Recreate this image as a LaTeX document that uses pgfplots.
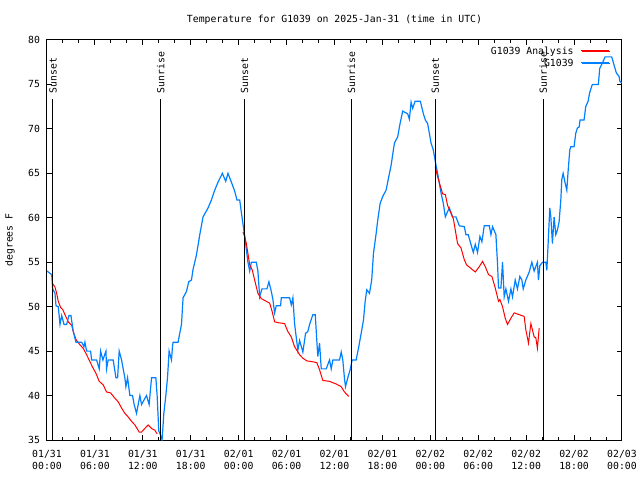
\documentclass[border=0pt]{standalone}
\usepackage{fontspec}
\setmainfont{DejaVu Sans Mono}
\usepackage{pgfplots}
\pgfplotsset{compat=1.18}
\definecolor{gblue}{RGB}{0,128,255}
\definecolor{gred}{RGB}{255,0,0}
\begin{document}
\begin{tikzpicture}[font=\fontsize{9.8pt}{12pt}\selectfont]
\path[use as bounding box] (-47pt,-40pt) rectangle (593pt,440pt);
\begin{axis}[
  scale only axis, width=575pt, height=400pt,
  xmin=0, xmax=72, ymin=35, ymax=80,
  xtick={0,6,...,72}, minor x tick num=2,
  xticklabels={{01/31\\00:00},{01/31\\06:00},{01/31\\12:00},{01/31\\18:00},{02/01\\00:00},{02/01\\06:00},{02/01\\12:00},{02/01\\18:00},{02/02\\00:00},{02/02\\06:00},{02/02\\12:00},{02/02\\18:00},{02/03\\00:00}},
  xticklabel style={align=center, yshift=-7pt},
  ytick={35,40,...,80},
  yticklabel style={xshift=-3.5pt},
  /pgf/number format/assume math mode=true,
  tick align=inside,
  major tick length=5pt, minor tick length=3pt,
  every tick/.style={black, line width=1pt},
  axis line style={black, line width=1pt},
  title={Temperature for G1039 on 2025-Jan-31 (time in UTC)},
  every axis title/.style={at={(axis description cs:0.5,1)}, yshift=20pt, anchor=center},
  ylabel={degrees F},
  every axis y label/.style={at={(axis description cs:0,0.5)}, xshift=-37pt, rotate=90, anchor=center},
  legend style={draw=none, fill=none, at={(rel axis cs:1,1)}, anchor=north east, xshift=-11pt, yshift=-5pt, row sep=-1pt, column sep=6pt, inner sep=0pt},
  legend cell align=right,
  legend plot pos=right,
  legend image code/.code={\path (0pt,0pt) -- (28pt,0pt);},
]
% Analysis (red)
\addplot[color=gred, line width=1pt] coordinates {
(0.71,52.6) (1.0,52.2) (1.21,51.5) (1.41,50.6) (1.71,49.9) (1.96,49.7) (2.25,49.1) (2.66,48.3) (3.09,47.9) (3.29,47.2) (3.63,46.3) (4.04,45.8) (4.54,45.3) (4.96,44.6) (5.38,43.8) (5.71,43.2) (6.13,42.5) (6.54,41.6) (7.04,41.2) (7.46,40.4) (7.96,40.3) (8.5,39.7) (8.91,39.3) (9.34,38.6) (9.75,38) (10.16,37.6) (10.59,37.1) (11.0,36.7) (11.54,35.9) (11.84,35.9) (12.25,36.3) (12.66,36.7) (13.09,36.3) (13.5,36.1) (13.79,35.7)
};
\addlegendentry{G1039 Analysis}
\addplot[color=gblue, line width=1.2pt] coordinates {
(0.0,54) (0.16,53.9) (0.59,53.6) (0.71,52) (1.0,51.5) (1.13,50.1) (1.41,50) (1.63,48) (1.84,49) (2.13,48) (2.46,48) (2.75,49) (3.0,49) (3.29,47.2) (3.63,46) (4.34,46) (4.63,45.5) (4.75,46) (4.96,45) (5.46,45) (5.59,44) (6.21,44) (6.54,43) (6.71,45) (7.0,44) (7.38,45) (7.46,43) (7.66,44) (8.29,44) (8.63,42) (8.84,42) (9.04,45) (9.34,44) (9.54,43) (9.75,42) (9.88,41) (10.09,42) (10.38,40) (10.71,40) (10.91,39) (11.21,38) (11.63,40) (11.84,39) (12.46,40) (12.79,39) (13.09,42) (13.63,42) (13.79,40) (14.0,36) (14.25,35.5) (14.41,35) (14.63,38) (14.88,40) (15.09,42) (15.29,45) (15.59,44) (15.71,45.5) (15.79,46) (16.41,46) (16.84,48) (17.04,51) (17.46,51.7) (17.75,52.8) (18.09,53) (18.29,54.2) (18.71,55.8) (19.13,58.1) (19.54,60.1) (20.16,61.1) (20.59,62) (21.0,63.1) (21.41,64) (21.96,65) (22.38,64.1) (22.66,65) (23.09,64) (23.5,63) (23.79,62) (24.13,62) (24.34,60.6) (24.54,59.3) (24.75,58) (24.96,56.5) (25.16,55) (25.38,54) (25.59,55) (26.21,55) (26.41,54) (26.63,51.1) (26.91,52) (27.54,52) (27.79,52.8) (28.09,51.7) (28.29,50.8) (28.5,49.3) (28.71,50.1) (29.25,50.1) (29.34,51) (30.38,51) (30.59,50.2) (30.79,51) (31.0,48.1) (31.41,45.1) (31.63,46.2) (32.04,44.9) (32.38,47) (32.66,47.2) (32.88,48) (33.29,49.1) (33.59,49.1) (33.79,46.1) (33.91,44.4) (34.13,45.9) (34.34,43) (34.96,43) (35.38,44) (35.59,43) (35.79,44) (36.63,44) (36.84,44.9) (37.04,44) (37.25,41.9) (37.38,41) (37.66,42) (37.96,42.9) (38.21,44) (38.71,44) (39.04,45.5) (39.34,47) (39.63,48.5) (39.84,50.6) (40.04,51.9) (40.38,51.5) (40.66,53) (40.88,56) (41.21,58.2) (41.41,59.7) (41.71,61.6) (42.04,62.4) (42.46,63.1) (42.79,64.6) (43.09,65.9) (43.5,68.4) (43.91,69.1) (44.21,70.6) (44.54,72) (45.16,71.7) (45.38,71.1) (45.59,73) (45.79,72.3) (46.09,73.1) (46.75,73.1) (47.13,71.7) (47.38,71) (47.66,70.6) (47.88,69.5) (48.09,68.4) (48.38,67.6) (48.63,66.3) (48.91,65) (49.13,63.9) (49.34,62.8) (49.63,61.6) (49.88,60.1) (50.16,60.7) (50.38,61.1) (50.79,60.1) (51.21,60.1) (51.63,59.1) (52.25,59) (52.46,58.1) (52.75,58.1) (53.09,57) (53.38,56.1) (53.63,57) (53.91,56.1) (54.21,57.9) (54.46,57.3) (54.75,59.1) (55.38,59.1) (55.59,58.1) (55.79,59) (56.21,58.1) (56.41,54.9) (56.54,52.1) (56.84,52.1) (57.04,55) (57.25,51.1) (57.46,52) (57.79,50.6) (58.09,52) (58.29,51.1) (58.63,53) (58.91,52) (59.21,53.4) (59.46,53) (59.63,52) (59.96,53) (60.38,53.9) (60.71,55) (61.0,54) (61.41,55) (61.54,53) (61.71,54.6) (62.04,55) (62.46,55) (62.59,54.1) (62.75,57.1) (62.96,61.1) (63.09,60.1) (63.29,57.1) (63.5,60.1) (63.71,58.1) (63.91,58.6) (64.13,59.6) (64.34,62) (64.46,64.3) (64.63,65) (64.88,63.9) (65.09,63.1) (65.25,65.2) (65.46,67.6) (65.59,68) (66.0,68) (66.21,69.5) (66.41,70.1) (66.63,70.2) (66.75,71) (67.25,71) (67.46,72.5) (67.75,73.1) (67.96,74.1) (68.29,75) (69.04,75) (69.21,76.8) (69.54,77.4) (69.88,78.1) (70.71,78.1) (71.0,77.2) (71.29,76.3) (71.63,75.9) (71.75,75.3) (72,75.2)
};
\addlegendentry{G1039}
\addplot[color=gred, line width=1pt, forget plot] coordinates {
(24.54,58.4) (24.75,57.9) (24.96,57.1) (25.16,56) (25.38,54.7) (25.71,54.1) (26.0,53) (26.41,51.5) (26.84,50.9) (27.46,50.6) (27.88,50.4) (28.21,49.4) (28.5,48.3) (28.91,48.2) (29.75,48.1) (30.16,47.2) (30.59,46.6) (31.0,45.5) (31.63,44.6) (32.04,44.2) (32.54,43.9) (33.29,43.8) (33.79,43.7) (34.13,42.9) (34.54,41.7) (35.38,41.6) (36.21,41.3) (36.84,41) (37.25,40.4) (37.79,39.9)
};
\addplot[color=gred, line width=1pt, forget plot] coordinates {
(48.63,65.7) (48.91,64.6) (49.21,63.7) (49.54,62.7) (49.88,62.6) (50.16,61.4) (50.59,60.5) (50.88,59.9) (51.13,58.6) (51.41,57.1) (51.84,56.6) (52.25,55.3) (52.54,54.7) (53.09,54.3) (53.63,53.9) (54.13,54.5) (54.54,55.1) (54.88,54.5) (55.29,53.6) (55.71,53.4) (56.13,52.1) (56.54,50.6) (56.71,50.8) (57.04,50) (57.38,48.7) (57.66,48) (58.09,48.7) (58.5,49.3) (59.13,49.1) (59.75,48.9) (59.96,47.4) (60.29,45.9) (60.59,48.1) (61.0,46.6) (61.21,46.5) (61.41,45.3) (61.63,47.6)
};
% legend sample lines
\addplot[color=gred, line width=1pt, forget plot] coordinates {(66.9,78.85) (70.4,78.85)};
\addplot[color=gblue, line width=1.2pt, forget plot] coordinates {(66.9,77.45) (70.4,77.45)};
% sunset / sunrise markers
\addplot[black, line width=1pt, forget plot] coordinates {(0.75,35) (0.75,73.36)};
\addplot[black, line width=1pt, forget plot] coordinates {(14.25,35) (14.25,73.36)};
\addplot[black, line width=1pt, forget plot] coordinates {(24.75,35) (24.75,73.36)};
\addplot[black, line width=1pt, forget plot] coordinates {(38.13,35) (38.13,73.36)};
\addplot[black, line width=1pt, forget plot] coordinates {(48.63,35) (48.63,73.36)};
\addplot[black, line width=1pt, forget plot] coordinates {(62.13,35) (62.13,73.36)};
\node[rotate=90, anchor=west, inner sep=0pt] at (axis cs:0.75,74.0) {Sunset};
\node[rotate=90, anchor=west, inner sep=0pt] at (axis cs:14.25,74.0) {Sunrise};
\node[rotate=90, anchor=west, inner sep=0pt] at (axis cs:24.75,74.0) {Sunset};
\node[rotate=90, anchor=west, inner sep=0pt] at (axis cs:38.13,74.0) {Sunrise};
\node[rotate=90, anchor=west, inner sep=0pt] at (axis cs:48.63,74.0) {Sunset};
\node[rotate=90, anchor=west, inner sep=0pt] at (axis cs:62.13,74.0) {Sunrise};
\end{axis}
\end{tikzpicture}
\end{document}
